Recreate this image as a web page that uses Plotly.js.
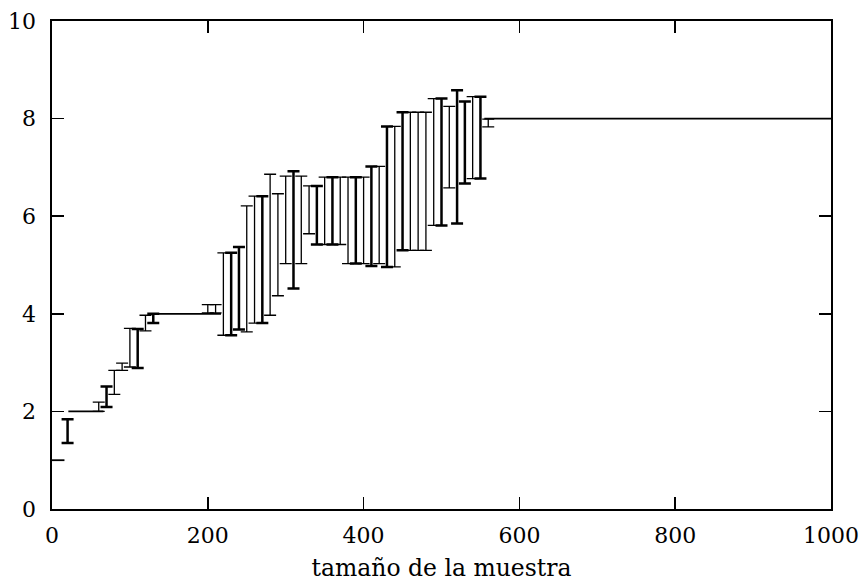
<!DOCTYPE html>
<html>
<head>
<meta charset="utf-8">
<script src="https://cdn.plot.ly/plotly-3.0.1.min.js"></script>
<style>html,body{margin:0;padding:0;background:#fff}#chart{width:860px;height:582px}</style>
</head>
<body>
<div id="chart"></div>
<script>
// sample sizes (x), lower and upper ends of each interval, and line style (1 = thick)
const sampleSize = [20, 60, 70, 80, 90, 100, 110, 120, 130, 200, 210, 220, 230, 240, 250, 260, 270, 280, 290, 300, 310, 320, 330, 340, 350, 360, 370, 380, 390, 400, 410, 420, 430, 440, 450, 460, 470, 480, 490, 500, 510, 520, 530, 540, 550, 560];
const lowerEnd = [1.35, 2.00, 2.09, 2.35, 2.84, 2.91, 2.89, 3.65, 3.81, 4.02, 4.02, 3.56, 3.56, 3.68, 3.63, 3.81, 3.81, 3.97, 4.37, 5.03, 4.52, 5.03, 5.64, 5.42, 5.42, 5.42, 5.42, 5.03, 5.03, 5.03, 4.98, 5.03, 4.96, 4.96, 5.30, 5.30, 5.30, 5.30, 5.81, 5.81, 6.58, 5.85, 6.67, 6.77, 6.77, 7.83];
const upperEnd = [1.84, 2.19, 2.51, 2.84, 2.99, 3.70, 3.69, 3.97, 4.00, 4.19, 4.19, 5.25, 5.25, 5.37, 6.21, 6.41, 6.41, 6.86, 6.46, 6.82, 6.92, 6.82, 6.62, 6.62, 6.80, 6.80, 6.80, 6.80, 6.80, 6.80, 7.02, 7.02, 7.84, 7.84, 8.13, 8.13, 8.13, 8.13, 8.41, 8.41, 8.25, 8.58, 8.35, 8.45, 8.45, 7.99];
const thickFlag = [1, 0, 1, 0, 0, 0, 1, 0, 1, 0, 0, 0, 1, 1, 0, 0, 1, 0, 0, 0, 1, 0, 0, 1, 0, 1, 0, 0, 1, 0, 1, 0, 1, 0, 1, 0, 0, 0, 0, 1, 0, 1, 1, 0, 1, 0];

// reference step line (segments separated by null)
const refX = [0, 16, null, 21, 66, null, 132, 217, null, 555, 1000];
const refY = [1, 1, null, 2, 2, null, 4, 4, null, 8, 8];

const xTicks = [0, 200, 400, 600, 800, 1000];
const yTicks = [0, 2, 4, 6, 8, 10];

function subset(flag) {
  const xs = [], lo = [], len = [], zero = [];
  sampleSize.forEach((x, i) => {
    if (thickFlag[i] === flag) {
      xs.push(x); lo.push(lowerEnd[i]); len.push(upperEnd[i] - lowerEnd[i]); zero.push(0);
    }
  });
  return {xs, lo, len, zero};
}

const thin = subset(0), thick = subset(1);

function barTrace(s, w) {
  return {
    type: 'scatter', mode: 'markers', x: s.xs, y: s.lo,
    marker: {size: 1, color: 'rgba(0,0,0,0)'},
    error_y: {type: 'data', symmetric: false, array: s.len, arrayminus: s.zero,
              color: '#000', thickness: w, width: 6},
    hoverinfo: 'skip', showlegend: false, cliponaxis: false
  };
}

const traces = [
  {type: 'scatter', mode: 'lines', x: refX, y: refY, connectgaps: false,
   line: {color: '#000', width: 1.8}, showlegend: false, hoverinfo: 'skip'},
  barTrace(thin, 1.3),
  barTrace(thick, 2.5)
];

const serif = 'DejaVu Serif, serif';
const tickFont = {family: serif, size: 22, color: '#000'};
const titleFont = {family: serif, size: 23.5, color: '#000'};

const axisCommon = {
  showgrid: false, zeroline: false, showline: true, linecolor: '#000', linewidth: 1.7,
  mirror: 'ticks', ticks: 'inside', ticklen: 12, tickwidth: 1.5, tickcolor: '#000',
  tickfont: tickFont
};

const layout = {
  width: 860, height: 582,
  margin: {l: 52, r: 29, t: 21, b: 73},
  paper_bgcolor: '#fff', plot_bgcolor: '#fff',
  showlegend: false,
  xaxis: Object.assign({}, axisCommon, {
    range: [0, 1000], tickmode: 'array', tickvals: xTicks, ticktext: xTicks.map(String),
    ticklabelstandoff: 6,
    title: {text: 'tamaño de la muestra', font: titleFont, standoff: 13}
  }),
  yaxis: Object.assign({}, axisCommon, {
    range: [0, 10], tickmode: 'array', tickvals: yTicks, ticktext: yTicks.map(String),
    ticklabelstandoff: 10
  })
};

Plotly.newPlot('chart', traces, layout, {staticPlot: true});
</script>
</body>
</html>
